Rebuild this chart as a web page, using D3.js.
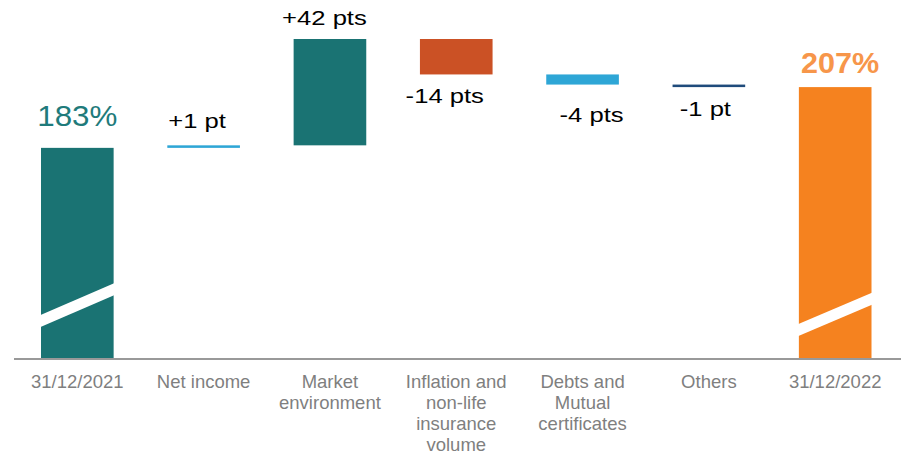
<!DOCTYPE html>
<html>
<head>
<meta charset="utf-8">
<script src="https://cdn.jsdelivr.net/npm/d3@7"></script>
<style>
  html, body { margin: 0; padding: 0; background: #fff; }
  svg { display: block; font-family: "Liberation Sans", Arial, sans-serif; }
</style>
</head>
<body>
<svg id="chart" width="901" height="455"></svg>
<script>
// Solvency ratio walk, 31/12/2021 -> 31/12/2022
const categories = ["31/12/2021", "Net income", "Market environment",
  "Inflation and non-life insurance volume", "Debts and Mutual certificates",
  "Others", "31/12/2022"];
const tickLines = [["31/12/2021"], ["Net income"], ["Market", "environment"],
  ["Inflation and", "non-life", "insurance", "volume"],
  ["Debts and", "Mutual", "certificates"], ["Others"], ["31/12/2022"]];
const values = [183, 1, 42, -14, -4, -1, 207];
const kinds = ["total", "delta", "delta", "delta", "delta", "delta", "total"];
const valueLabels = ["183%", "+1 pt", "+42 pts", "-14 pts", "-4 pts", "-1 pt", "207%"];

const barColors = ["#1a7373", "#2ea6d6", "#1a7373", "#cb5125", "#2ea6d6", "#1f4b7b", "#f5821f"];
const labelColors = ["#1f7b7b", "#000", "#000", "#000", "#000", "#000", "#f7964a"];
// label nudges [dx, gap from bar end]
const labelNudge = [[0, 22], [-6.5, 17], [-5.5, 14], [-11.5, 28.5], [9, 37.5], [-3.5, 29], [5, 14]];

const svg = d3.select("#chart");

// running totals for the waterfall
let run = 0;
const bars = values.map((v, i) => {
  let lo, hi;
  if (kinds[i] === "total") { lo = null; hi = v; run = v; }
  else { const s = run; run = s + v; lo = Math.min(s, run); hi = Math.max(s, run); }
  return { cat: categories[i], v, kind: kinds[i], lo, hi, i };
});

const x = d3.scaleBand().domain(categories).range([41, 871.5]).paddingInner(0.425).paddingOuter(0);
// broken value axis: starts at 100%
const y = d3.scaleLinear().domain([100, 226]).range([358, 39]);
const base = y.domain()[0];

// bars
svg.append("g").selectAll("rect").data(bars).join("rect")
  .attr("x", d => x(d.cat))
  .attr("width", x.bandwidth())
  .attr("y", d => y(d.hi))
  .attr("height", d => (d.lo === null ? y(base) : y(d.lo)) - y(d.hi))
  .attr("fill", (d, i) => barColors[i]);

// axis-break slashes across the total bars
const breaks = { "31/12/2021": [114.5, 127.3], "31/12/2022": [111, 123.5] };
const half = 6;
svg.append("g").selectAll("path").data(bars.filter(d => d.kind === "total")).join("path")
  .attr("fill", "#fff")
  .attr("d", d => {
    const [a, b] = breaks[d.cat];
    const x0 = x(d.cat) - 1, x1 = x(d.cat) + x.bandwidth() + 1;
    return `M${x0},${y(a) - half}L${x1},${y(b) - half}L${x1},${y(b) + half}L${x0},${y(a) + half}Z`;
  });

// baseline
svg.append("line")
  .attr("x1", 14).attr("x2", 901)
  .attr("y1", y(base) + 1).attr("y2", y(base) + 1)
  .attr("stroke", "#999").attr("stroke-width", 2);

// category axis with wrapped labels
const axis = svg.append("g")
  .attr("transform", `translate(0,${y(base) + 1})`)
  .call(d3.axisBottom(x).tickSize(0).tickFormat(""));
axis.select(".domain").remove();
axis.selectAll(".tick").each(function (c, i) {
  const t = d3.select(this).append("text")
    .attr("text-anchor", "middle")
    .attr("fill", "#7f7f7f")
    .attr("font-size", 18.5)
    .attr("font-family", "Liberation Sans, Arial, sans-serif");
  tickLines[i].forEach((line, k) => {
    t.append("tspan").attr("x", 0).attr("y", 29 + k * 21).text(line);
  });
});

// value labels
svg.append("g").selectAll("text").data(bars).join("text")
  .attr("text-anchor", "middle")
  .attr("fill", (d, i) => labelColors[i])
  .attr("font-size", (d, i) => d.kind === "total" ? (i === 0 ? 29 : 30) : 21)
  .attr("font-weight", (d, i) => i === bars.length - 1 ? "bold" : "normal")
  .attr("transform", (d, i) => {
    const cx = x(d.cat) + x.bandwidth() / 2 + labelNudge[i][0];
    const up = d.kind === "total" || d.v > 0;
    const yy = up ? y(d.hi) - labelNudge[i][1] : y(d.lo) + labelNudge[i][1];
    const sx = d.kind === "total" ? (i === 0 ? 1.08 : 1.02) : 1.22;
    return `translate(${cx},${yy}) scale(${sx},1)`;
  })
  .text((d, i) => valueLabels[i]);
</script>
</body>
</html>
